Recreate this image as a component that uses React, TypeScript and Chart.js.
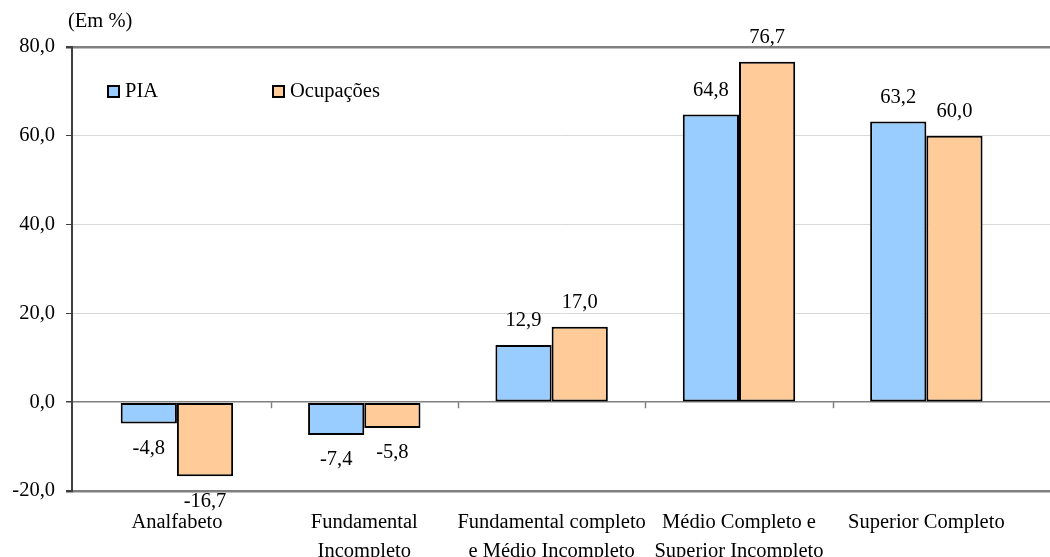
import React, { useEffect, useRef } from "react";
import { Chart, registerables } from "chart.js";

Chart.register(...registerables);

const categories: string[][] = [
  ["Analfabeto"],
  ["Fundamental", "Incompleto"],
  ["Fundamental completo", "e Médio Incompleto"],
  ["Médio Completo e", "Superior Incompleto"],
  ["Superior Completo"],
];
const seriesNames = ["PIA", "Ocupações"];
const piaValues = [-4.8, -7.4, 12.9, 64.8, 63.2];
const ocupValues = [-16.7, -5.8, 17.0, 76.7, 60.0];
const yTickValues = [-20, 0, 20, 40, 60, 80];
const unitLabel = "(Em %)";

const FONT = "'Liberation Serif', 'Times New Roman', serif";
const FS = 20.5;

const fmt = (v: number) => v.toFixed(1).replace(".", ",");

const extrasPlugin = {
  id: "extras",
  afterDatasetsDraw(chart: any) {
    const ctx = chart.ctx;
    const area = chart.chartArea;
    const xs = chart.scales.x;
    const ys = chart.scales.y;
    ctx.save();
    const y0 = ys.getPixelForValue(0);
    ctx.strokeStyle = "#808080";
    ctx.lineWidth = 1.5;
    for (let i = 0; i < categories.length - 1; i++) {
      const px = Math.round(xs.getPixelForValue(i + 0.5)) + 0.5;
      ctx.beginPath();
      ctx.moveTo(px, y0);
      ctx.lineTo(px, y0 + 6);
      ctx.stroke();
    }
    ctx.font = `${FS}px ${FONT}`;
    ctx.fillStyle = "#000";
    ctx.textAlign = "center";
    ctx.textBaseline = "middle";
    chart.data.datasets.forEach((ds: any, di: number) => {
      const meta = chart.getDatasetMeta(di);
      meta.data.forEach((bar: any, i: number) => {
        const v = ds.data[i].y;
        const yy = v >= 0 ? bar.y - 24 : bar.y + 25;
        ctx.fillText(fmt(v), bar.x, yy);
      });
    });
    ctx.textAlign = "left";
    ctx.fillText(unitLabel, area.left - 4, area.top - 25);
    const lx = [area.left + 36, area.left + 201];
    const ly = area.top + 45;
    chart.data.datasets.forEach((ds: any, di: number) => {
      ctx.fillStyle = ds.backgroundColor;
      ctx.fillRect(lx[di], ly - 6, 11, 11);
      ctx.strokeStyle = "#000";
      ctx.lineWidth = 2;
      ctx.strokeRect(lx[di], ly - 6, 11, 11);
      ctx.fillStyle = "#000";
      ctx.fillText(ds.label, lx[di] + 17, ly);
    });
    ctx.restore();
  },
};

export default function App() {
  const ref = useRef<HTMLCanvasElement>(null);
  useEffect(() => {
    if (!ref.current) return;
    const mk = (vals: number[]) => vals.map((v, i) => ({ x: i, y: v }));
    const chart = new Chart(ref.current, {
      type: "bar",
      data: {
        datasets: [
          {
            label: seriesNames[0],
            data: mk(piaValues) as any,
            backgroundColor: "#99CCFF",
            borderColor: "#000",
            borderWidth: 2,
            borderSkipped: false,
          },
          {
            label: seriesNames[1],
            data: mk(ocupValues) as any,
            backgroundColor: "#FFCC99",
            borderColor: "#000",
            borderWidth: 2,
            borderSkipped: false,
          },
        ],
      },
      options: {
        animation: false,
        responsive: false,
        maintainAspectRatio: false,
        devicePixelRatio: 1,
        categoryPercentage: 0.6,
        barPercentage: 1,
        layout: { padding: { top: 47, right: 0, left: 0, bottom: 0 } },
        plugins: { legend: { display: false }, tooltip: { enabled: false } },
        scales: {
          x: {
            type: "linear",
            offset: false,
            min: -0.56,
            max: 4.66,
            grid: { display: false, drawTicks: false },
            border: { display: false },
            afterBuildTicks: (scale: any) => {
              scale.ticks = categories.map((_, i) => ({ value: i }));
            },
            afterFit: (scale: any) => {
              scale.height = 66;
            },
            ticks: {
              autoSkip: false,
              maxRotation: 0,
              padding: 18,
              color: "#000",
              font: { family: FONT, size: FS, lineHeight: 1.37 },
              callback: (v: any) => categories[Math.round(Number(v))] ?? "",
            },
          },
          y: {
            min: -20,
            max: 80,
            afterBuildTicks: (scale: any) => {
              scale.ticks = yTickValues.map((v) => ({ value: v }));
            },
            afterFit: (scale: any) => {
              scale.width = 72;
            },
            grid: {
              color: (c: any) =>
                c.tick && (c.tick.value === 80 || c.tick.value === 0 || c.tick.value === -20)
                  ? "#808080"
                  : "#d9d9d9",
              lineWidth: (c: any) =>
                c.tick && (c.tick.value === 80 || c.tick.value === -20) ? 2.5 : c.tick && c.tick.value === 0 ? 1.5 : 1,
              tickColor: "#404040",
              tickLength: 6,
            },
            border: { display: true, color: "#404040", width: 2 },
            ticks: {
              padding: 11,
              color: "#000",
              font: { family: FONT, size: FS },
              callback: (v: any) => fmt(Number(v)),
            },
          },
        },
      },
      plugins: [extrasPlugin],
    });
    return () => chart.destroy();
  }, []);
  return (
    <div style={{ position: "fixed", left: 0, top: 0, width: 1050, height: 557, background: "#fff" }}>
      <canvas ref={ref} width={1050} height={557} style={{ width: 1050, height: 557 }} />
    </div>
  );
}
